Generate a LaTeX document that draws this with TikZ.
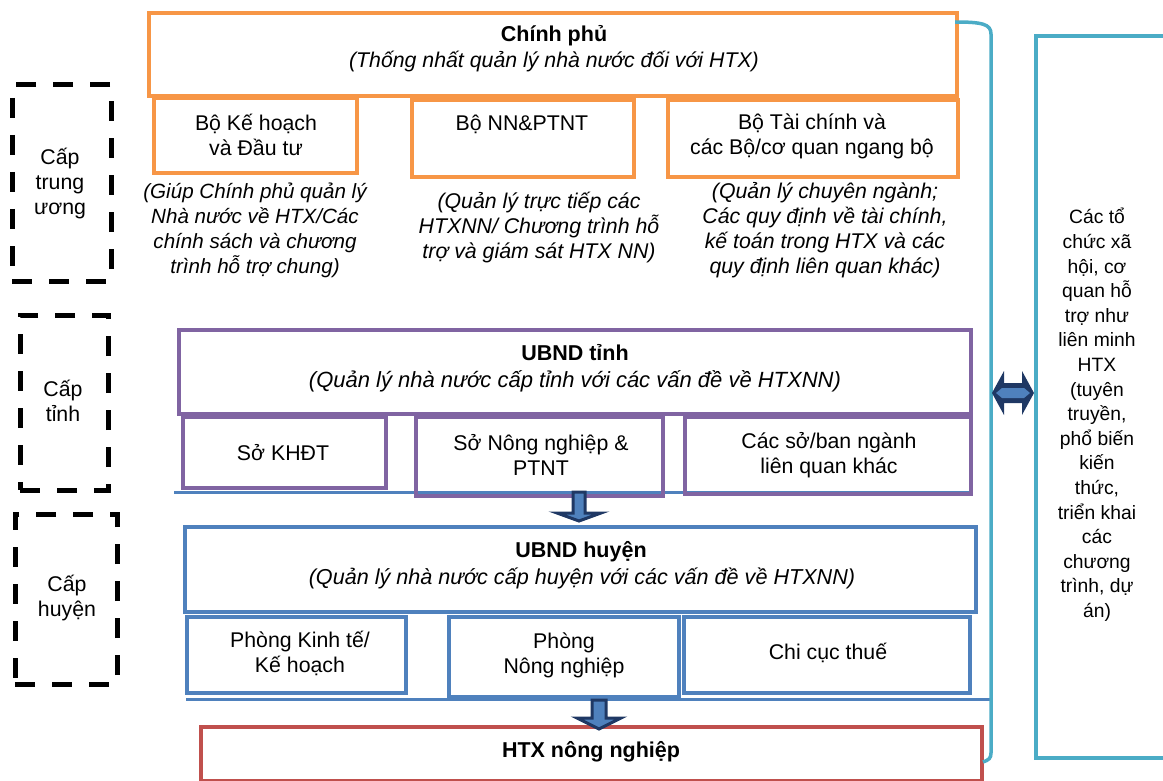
\documentclass[tikz,border=0pt]{standalone}
\usepackage{fontspec}
\setmainfont{Liberation Sans}
\usetikzlibrary{fit}
\definecolor{cOrange}{HTML}{F79646}
\definecolor{cPurple}{HTML}{8064A2}
\definecolor{cBlue}{HTML}{4F81BD}
\definecolor{cRed}{HTML}{C0504D}
\definecolor{cCyan}{HTML}{4BACC6}
\definecolor{cNavy}{HTML}{1F3864}
\begin{document}
\begin{tikzpicture}[x=1pt,y=-1pt,
  frame/.style={draw, line width=4.5pt, inner sep=0pt},
  obox/.style={frame, draw=cOrange},
  pbox/.style={frame, draw=cPurple},
  bbox/.style={frame, draw=cBlue, line width=4pt},
  rbox/.style={frame, draw=cRed},
  cbox/.style={frame, draw=cCyan},
  lvl/.style={frame, draw=black, line width=5pt, dash pattern=on 20pt off 17pt},
  txt/.style={font=\fontsize{21.3}{25}\selectfont, align=center, inner sep=0pt},
  ttl/.style={txt, font=\fontsize{21.5}{25}\selectfont\bfseries},
  itx/.style={txt, font=\fontsize{21.3}{25}\selectfont\itshape},
  sidetxt/.style={txt, font=\fontsize{19.3}{24.6}\selectfont},
  arr/.style={fill=cBlue, draw=cNavy, line width=3pt, line join=miter},
  navyfill/.style={fill=cNavy},
  bluefill/.style={fill=cBlue},
  thinline/.style={line width=3pt},
]
\useasboundingbox (0,0) rectangle (1163,781);

% level boxes
\node[lvl, fit={(12,85)(111,281)}] (lv1) {};
\node[lvl, fit={(20,315)(108,490)}] (lv2) {};
\node[lvl, fit={(15,514)(117,684)}] (lv3) {};
\node[txt] (lv1t) at (60,184) {Cấp\\trung\\ương};
\node[txt] (lv2t) at (63,401) {Cấp\\tỉnh};
\node[txt] (lv3t) at (67,598) {Cấp\\huyện};

% central level
\node[obox, fit={(149,13)(957,96)}] (cp) {};
\node[obox, fit={(154,98)(357,173)}] (bkh) {};
\node[obox, fit={(412,100)(634,177)}] (bnn) {};
\node[obox, fit={(668,100)(958,177)}] (btc) {};
\node[ttl] (cpt) at (554,36) {Chính phủ};
\node[itx] (cpi) at (554,62) {(Thống nhất quản lý nhà nước đối với HTX)};
\node[txt] (bkht) at (256,135) {Bộ Kế hoạch\\và Đầu tư};
\node[txt] (bnnt) at (522,124) {Bộ NN\&PTNT};
\node[txt] (btct) at (812,136) {Bộ Tài chính và\\các Bộ/cơ quan ngang bộ};
\node[itx, font=\fontsize{20.6}{25}\selectfont\itshape] (d1) at (255,230) {(Giúp Chính phủ quản lý\\Nhà nước về HTX/Các\\chính sách và chương\\trình hỗ trợ chung)};
\node[itx] (d2) at (539,228) {(Quản lý trực tiếp các\\HTXNN/ Chương trình hỗ\\trợ và giám sát HTX NN)};
\node[itx] (d3) at (825,230) {(Quản lý chuyên ngành;\\Các quy định về tài chính,\\kế toán trong HTX và các\\quy định liên quan khác)};

% province level
\draw[cBlue, thinline] (174,492) -- (970,492);
\node[pbox, fit={(179,330)(971,414)}] (ubt) {};
\node[pbox, fit={(183,417)(386,488)}] (skh) {};
\node[pbox, fit={(416,417)(663,496)}] (snn) {};
\node[pbox, fit={(685,417)(971,494)}] (sk) {};
\node[ttl] (ubtt) at (575,353) {UBND tỉnh};
\node[itx, font=\fontsize{22}{25}\selectfont\itshape] (ubti) at (575,381) {(Quản lý nhà nước cấp tỉnh với các vấn đề về HTXNN)};
\node[txt] (skht) at (283,453) {Sở KHĐT};
\node[txt] (snnt) at (541,455) {Sở Nông nghiệp \&\\PTNT};
\node[txt] (skt) at (829,455) {Các sở/ban ngành\\liên quan khác};

% district level
\draw[cBlue, thinline] (186,699) -- (991,699);
\node[bbox, fit={(185,527)(976,612)}] (ubh) {};
\node[bbox, fit={(187,617)(406,693)}] (pkt) {};
\node[bbox, fit={(449,617)(679,697)}] (pnn) {};
\node[bbox, fit={(684,617)(970,693)}] (ccc) {};
\node[ttl] (ubht) at (581,552) {UBND huyện};
\node[itx, font=\fontsize{21.6}{25}\selectfont\itshape] (ubhi) at (582,578) {(Quản lý nhà nước cấp huyện với các vấn đề về HTXNN)};
\node[txt] (pktt) at (300,653) {Phòng Kinh tế/\\Kế hoạch};
\node[txt] (pnnt) at (564,655) {Phòng\\Nông nghiệp};
\node[txt] (ccct) at (828,653) {Chi cục thuế};

% cooperative
\node[rbox, fit={(201,727)(982,781)}] (htx) {};
\node[ttl] (htxt) at (591,752) {HTX nông nghiệp};

% right side box
\node[cbox, fit={(1036,36)(1175,758)}] (xh) {};
\node[sidetxt] (xht) at (1097,415) {Các tổ\\chức xã\\hội, cơ\\quan hỗ\\trợ như\\liên minh\\HTX\\(tuyên\\truyền,\\phổ biến\\kiến\\thức,\\triển khai\\các\\chương\\trình, dự\\án)};

% bracket
\draw[cCyan, line width=3.5pt] (955,22) .. controls (982,22) and (991,24) .. (991,34)
  -- (991,753) .. controls (991,758) and (989,760) .. (983,762);

% double arrow between bracket and side box
\begin{scope}[shift={(1013,393)}]
\fill[navyfill] (-21,0) -- (-9,-22) -- (-9,-10) -- (9,-10) -- (9,-22) -- (21,0)
  -- (9,22) -- (9,10) -- (-9,10) -- (-9,22) -- cycle;
\fill[bluefill] (-17,0) -- (-11,-5) -- (11,-5) -- (17,0) -- (11,5) -- (-11,5) -- cycle;
\end{scope}
% down arrows
\begin{scope}[shift={(579,492)}]
\filldraw[arr] (-6,0) -- (6,0) -- (6,21) -- (22,21) -- (0,29) -- (-22,21) -- (-6,21) -- cycle;
\end{scope}
\begin{scope}[shift={(599,700)}]
\filldraw[arr] (-7,0) -- (7,0) -- (7,18) -- (22,18) -- (0,29) -- (-22,18) -- (-7,18) -- cycle;
\end{scope}
\end{tikzpicture}
\end{document}
